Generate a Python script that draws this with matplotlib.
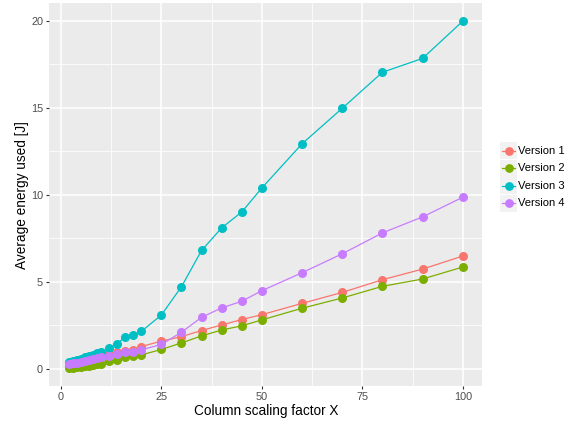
import matplotlib
matplotlib.use("Agg")
import matplotlib.pyplot as plt
from matplotlib.patches import Rectangle

plt.rcParams['font.family'] = ['Liberation Sans', 'DejaVu Sans']

# scaling factors and measured energy per version
scale_x = [2, 3, 4, 5, 6, 7, 8, 9, 10, 12, 14, 16, 18, 20,
           25, 30, 35, 40, 45, 50, 60, 70, 80, 90, 100]
version_1 = [0.18, 0.24, 0.30, 0.37, 0.43, 0.50, 0.56, 0.63, 0.70, 0.86, 0.96, 1.01, 1.10, 1.28,
             1.59, 1.85, 2.20, 2.52, 2.83, 3.11, 3.76, 4.39, 5.12, 5.73, 6.48]
version_2 = [0.02, 0.05, 0.08, 0.11, 0.14, 0.18, 0.22, 0.26, 0.30, 0.42, 0.53, 0.67, 0.74, 0.80,
             1.11, 1.49, 1.89, 2.23, 2.47, 2.81, 3.48, 4.07, 4.74, 5.16, 5.85]
version_3 = [0.38, 0.44, 0.51, 0.58, 0.66, 0.74, 0.82, 0.89, 0.97, 1.17, 1.45, 1.83, 1.94, 2.15,
             3.09, 4.72, 6.80, 8.10, 9.01, 10.39, 12.93, 14.97, 17.04, 17.84, 19.98]
version_4 = [0.28, 0.32, 0.36, 0.40, 0.45, 0.50, 0.55, 0.60, 0.65, 0.76, 0.86, 0.95, 0.99, 1.09,
             1.40, 2.10, 2.96, 3.50, 3.88, 4.49, 5.52, 6.61, 7.81, 8.73, 9.86]

labels = ["Version 1", "Version 2", "Version 3", "Version 4"]
colors = ["#F8766D", "#7CAE00", "#00BFC4", "#C77CFF"]
series = [version_1, version_2, version_3, version_4]

x_ticks = [0, 25, 50, 75, 100]
y_ticks = [0, 5, 10, 15, 20]

fig = plt.figure(figsize=(5.73, 4.23), dpi=100)
ax = fig.add_axes([0.086, 0.087, 0.756, 0.905])
ax.set_facecolor("#EBEBEB")

for s in ax.spines.values():
    s.set_visible(False)

ax.set_xlim(-2.9, 104.9)
ax.set_ylim(-1.0, 21.0)
ax.set_xticks(x_ticks)
ax.set_yticks(y_ticks)
ax.set_xticks([12.5, 37.5, 62.5, 87.5], minor=True)
ax.set_yticks([2.5, 7.5, 12.5, 17.5], minor=True)
ax.grid(True, which="major", color="white", linewidth=1.1)
ax.grid(True, which="minor", color="white", linewidth=0.55)
ax.set_axisbelow(True)
ax.tick_params(which="major", length=2.5, width=0.8, color="#333333",
               labelsize=7.8, labelcolor="#4D4D4D", pad=2)
ax.tick_params(which="minor", length=0)

# lines first, then the points on top
for ys, c in zip(series, colors):
    ax.plot(scale_x, ys, color=c, linewidth=0.9, zorder=2)
for ys, c in zip(series, colors):
    ax.plot(scale_x, ys, linestyle="none", marker="o", markersize=6.5,
            color=c, markeredgewidth=0, zorder=3)

ax.set_xlabel("Column scaling factor X", fontsize=9.8, labelpad=1)
ax.set_ylabel("Average energy used [J]", fontsize=9.8, labelpad=1)

# legend drawn by hand so the keys get the grey background
leg = fig.add_axes([0.8727, 0.4988, 0.16, 0.1655])
leg.set_xlim(0, 4)
leg.set_ylim(4, 0)
leg.axis("off")
key_w = 17 / 573 / 0.16 * 4
for i, (lab, c) in enumerate(zip(labels, colors)):
    leg.add_patch(Rectangle((0, i + 0.02), key_w, 0.96, color="#F2F2F2", lw=0))
    leg.plot([0.12 * key_w, 0.88 * key_w], [i + 0.5, i + 0.5], color=c, linewidth=0.9)
    leg.plot(key_w / 2, i + 0.5, marker="o", markersize=6.3, color=c, markeredgewidth=0)
    leg.text(key_w + 0.06, i + 0.5, lab, fontsize=8, va="center", ha="left", color="black")

fig.savefig("out.png", dpi=100)
